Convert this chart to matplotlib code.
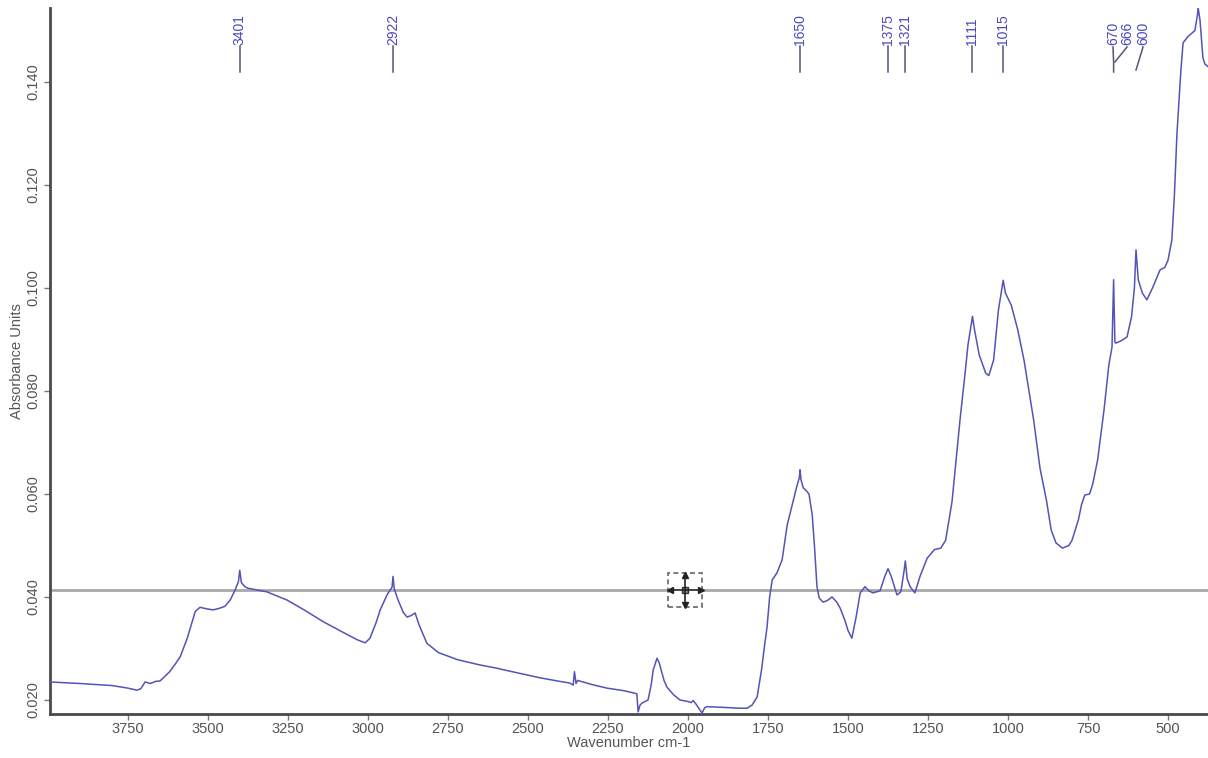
import matplotlib
matplotlib.use("Agg")
import matplotlib.pyplot as plt
import matplotlib.transforms as mtransforms
from matplotlib.patches import Rectangle

plt.rcParams['font.family'] = ['Liberation Sans', 'DejaVu Sans']

# ---- data ----
wavenumber = [3994, 3900, 3800, 3750, 3722, 3710, 3697, 3680, 3665, 3650, 3620, 3600, 3587, 3565,
              3540, 3525, 3505, 3484, 3465, 3447, 3430, 3416, 3405, 3401, 3396, 3385, 3375, 3316,
              3253, 3200, 3140, 3080, 3034, 3009, 2994, 2975, 2962, 2940, 2925, 2922, 2918, 2906,
              2890, 2878, 2865, 2853, 2840, 2816, 2780, 2719, 2650, 2600, 2550, 2462, 2400, 2370,
              2359, 2355, 2350, 2345, 2328, 2300, 2253, 2200, 2172, 2160, 2156, 2150, 2144, 2125,
              2115, 2109, 2097, 2090, 2084, 2075, 2066, 2045, 2025, 2000, 1990, 1984, 1975, 1960,
              1956, 1948, 1941, 1900, 1838, 1816, 1800, 1784, 1770, 1760, 1753, 1745, 1737, 1722,
              1706, 1690, 1670, 1660, 1652, 1650, 1647, 1640, 1630, 1622, 1612, 1605, 1597, 1590,
              1578, 1565, 1550, 1535, 1525, 1510, 1500, 1488, 1475, 1462, 1447, 1435, 1422, 1400,
              1385, 1375, 1365, 1347, 1335, 1325, 1321, 1315, 1306, 1291, 1275, 1253, 1230, 1210,
              1195, 1175, 1150, 1135, 1125, 1115, 1111, 1105, 1090, 1070, 1060, 1045, 1030, 1020,
              1015, 1008, 990, 970, 950, 920, 900, 880, 865, 850, 830, 810, 800, 780, 770, 760,
              745, 735, 720, 700, 685, 675, 670, 666, 663, 645, 628, 614, 605, 600, 593, 580, 566,
              547, 535, 525, 510, 500, 488, 480, 472, 460, 453, 438, 425, 416, 408, 406, 400, 391,
              385, 375]
absorbance = [0.0235, 0.0232, 0.0228, 0.0223, 0.0219, 0.0222, 0.0235, 0.0232, 0.0236, 0.0237, 0.0255,
              0.0272, 0.0284, 0.0320, 0.0372, 0.0380, 0.0377, 0.0375, 0.0378, 0.0382, 0.0395, 0.0413,
              0.0430, 0.0452, 0.0428, 0.0420, 0.0417, 0.0410, 0.0394, 0.0375, 0.0352, 0.0332, 0.0317,
              0.0311, 0.0320, 0.0350, 0.0375, 0.0405, 0.0419, 0.0440, 0.0415, 0.0394, 0.0370, 0.0361,
              0.0364, 0.0369, 0.0345, 0.0310, 0.0292, 0.0278, 0.0268, 0.0262, 0.0255, 0.0243, 0.0236,
              0.0233, 0.0229, 0.0255, 0.0232, 0.0238, 0.0235, 0.0230, 0.0223, 0.0218, 0.0214, 0.0212,
              0.0177, 0.0190, 0.0194, 0.0200, 0.0230, 0.0258, 0.0281, 0.0272, 0.0258, 0.0238, 0.0225,
              0.0210, 0.0200, 0.0197, 0.0195, 0.0199, 0.0192, 0.0178, 0.0175, 0.0185, 0.0187, 0.0186,
              0.0184, 0.0184, 0.0190, 0.0206, 0.0260, 0.0310, 0.0342, 0.0400, 0.0433, 0.0447, 0.0472,
              0.0540, 0.0590, 0.0615, 0.0632, 0.0647, 0.0628, 0.0612, 0.0606, 0.0600, 0.0560, 0.0500,
              0.0420, 0.0398, 0.0390, 0.0393, 0.0400, 0.0390, 0.0379, 0.0355, 0.0335, 0.0320, 0.0360,
              0.0408, 0.0420, 0.0412, 0.0408, 0.0412, 0.0440, 0.0455, 0.0440, 0.0404, 0.0410, 0.0450,
              0.0470, 0.0435, 0.0420, 0.0408, 0.0440, 0.0475, 0.0492, 0.0495, 0.0510, 0.0585, 0.0744,
              0.0830, 0.0890, 0.0930, 0.0945, 0.0920, 0.0870, 0.0835, 0.0830, 0.0860, 0.0957, 0.0995,
              0.1015, 0.0990, 0.0967, 0.0920, 0.0860, 0.0744, 0.0650, 0.0588, 0.0530, 0.0505, 0.0495,
              0.0500, 0.0510, 0.0550, 0.0580, 0.0598, 0.0600, 0.0620, 0.0666, 0.0763, 0.0850, 0.0885,
              0.1016, 0.0895, 0.0893, 0.0898, 0.0905, 0.0944, 0.1000, 0.1074, 0.1016, 0.0990, 0.0977,
              0.1002, 0.1020, 0.1035, 0.1040, 0.1054, 0.1093, 0.1180, 0.1300, 0.1420, 0.1476, 0.1488,
              0.1495, 0.1500, 0.1530, 0.1545, 0.1520, 0.1448, 0.1435, 0.1430]

peak_labels = ["3401", "2922", "1650", "1375", "1321", "1111", "1015"]
peak_positions = [3401, 2922, 1650, 1375, 1321, 1111, 1015]
small_labels = ["670", "666", "600"]
small_label_x = [672, 628, 578]
small_peak_x = [670, 666, 600]

xticks = [3750, 3500, 3250, 3000, 2750, 2500, 2250, 2000, 1750, 1500, 1250, 1000, 750, 500]
yticks = [0.020, 0.040, 0.060, 0.080, 0.100, 0.120, 0.140]
cursor_level = 0.0414
cursor_x = 2009

W, H = 1208, 758
fig = plt.figure(figsize=(W / 100, H / 100), dpi=100)
fig.patch.set_facecolor('white')
ax = fig.add_axes([50 / W, 44 / H, 1 - 50 / W, 706 / H])
ax.set_xlim(3994, 375)
ax.set_ylim(0.01728, 0.15437)

ax.axhline(cursor_level, color='#a8a8a8', lw=2.0, zorder=1)
ax.plot(wavenumber, absorbance, color='#5353b8', lw=1.1, zorder=3)

for s in ('top', 'right'):
    ax.spines[s].set_visible(False)
for s in ('left', 'bottom'):
    ax.spines[s].set_color('#4a4a4a')
    ax.spines[s].set_linewidth(2.0)

ax.set_xticks(xticks)
ax.set_xticklabels([str(v) for v in xticks])
ax.set_yticks(yticks)
ax.set_yticklabels(["%.3f" % v for v in yticks], rotation=90, va='center')
ax.tick_params(axis='both', direction='out', length=4, width=1, color='#777777',
               labelsize=10.5, labelcolor='#555555')
ax.tick_params(axis='x', pad=2)
ax.tick_params(axis='y', pad=3)

ax.set_xlabel("Wavenumber cm-1", fontsize=10.5, color='#555555', labelpad=0)
ax.set_ylabel("Absorbance Units", fontsize=10.5, color='#555555', labelpad=2)

# peak annotations (x in data, y in axes fraction)
trans = mtransforms.blended_transform_factory(ax.transData, ax.transAxes)
def fy(px):
    return (714 - px) / 706.0

lab_color = '#4848c0'
lead_color = '#555577'
for lab, xp in zip(peak_labels, peak_positions):
    ax.plot([xp, xp], [fy(72), fy(46)], transform=trans, color=lead_color, lw=1.1, clip_on=False)
    ax.text(xp, fy(45), lab, transform=trans, rotation=90, ha='center', va='bottom',
            fontsize=10, color=lab_color, clip_on=False)

# the crowded 670 / 666 / 600 group
for lab, xl in zip(small_labels, small_label_x):
    ax.text(xl, fy(45), lab, transform=trans, rotation=90, ha='center', va='bottom',
            fontsize=10, color=lab_color, clip_on=False)
ax.plot([small_label_x[0], small_peak_x[0], small_peak_x[0]], [fy(47), fy(62), fy(72)],
        transform=trans, color=lead_color, lw=1.1, clip_on=False)
ax.plot([small_label_x[1], small_peak_x[1]], [fy(47), fy(62)],
        transform=trans, color=lead_color, lw=1.1, clip_on=False)
ax.plot([small_label_x[2], small_peak_x[2]], [fy(47), fy(70)],
        transform=trans, color=lead_color, lw=1.1, clip_on=False)

# cursor handle icon
cx_ax = (cursor_x - 3994) / (375 - 3994)
cy_ax = (cursor_level - 0.01728) / (0.15437 - 0.01728)
bw, bh = 34 / 1158, 34 / 706
ax.add_patch(Rectangle((cx_ax - bw / 2, cy_ax - bh / 2), bw, bh, transform=ax.transAxes,
                       fill=True, facecolor='white', edgecolor='#666666', lw=1.2,
                       ls=(0, (3, 2)), zorder=5))
ax.plot([cx_ax], [cy_ax], transform=ax.transAxes, marker='s', ms=5, mfc='#888888',
        mec='#333333', zorder=6)
ax.plot([cx_ax - 0.0135, cx_ax + 0.0135], [cy_ax, cy_ax], transform=ax.transAxes,
        color='#222222', lw=1.2, zorder=6)
ax.plot([cx_ax, cx_ax], [cy_ax - 0.021, cy_ax + 0.021], transform=ax.transAxes,
        color='#222222', lw=1.2, zorder=6)
for (mx, my, mk) in [(cx_ax - 0.0135, cy_ax, '<'), (cx_ax + 0.0135, cy_ax, '>'),
                     (cx_ax, cy_ax + 0.021, '^'), (cx_ax, cy_ax - 0.021, 'v')]:
    ax.plot([mx], [my], transform=ax.transAxes, marker=mk, ms=4.5, color='#222222', zorder=7)

fig.savefig("out.png", dpi=100, facecolor='white')
